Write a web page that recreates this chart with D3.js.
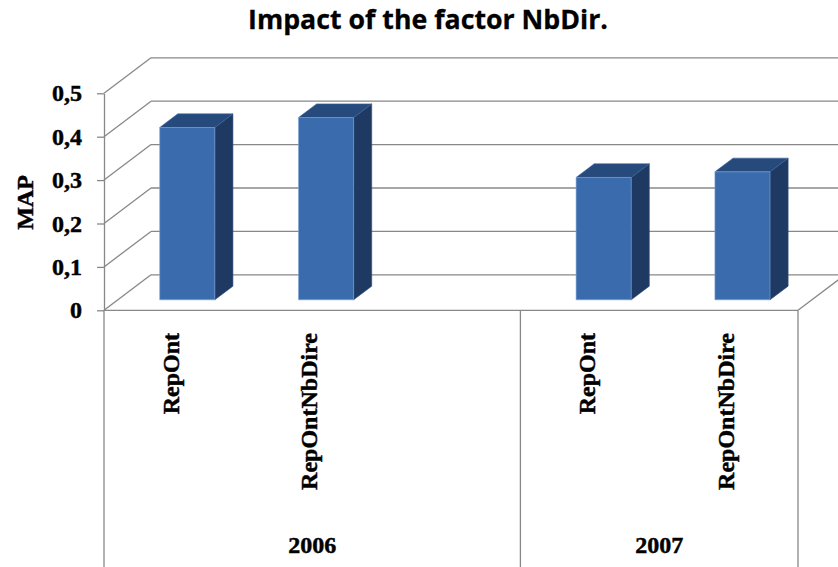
<!DOCTYPE html>
<html><head><meta charset="utf-8">
<script src="https://cdn.jsdelivr.net/npm/d3@7"></script>
<style>html,body{margin:0;padding:0;background:#fff;}svg{display:block;}
.serif{font-family:"Liberation Serif";font-weight:bold;font-size:24px;fill:#000;stroke:#000;stroke-width:0.45px;}</style>
</head><body>
<svg id="chart" width="838" height="567"></svg>
<script>
// ---- data ----
const title = "Impact of the factor NbDir.";
const yLabel = "MAP";
const categories = ["RepOnt", "RepOntNbDire", "", "RepOnt", "RepOntNbDire"];
const categoryYears = ["2006", "2006", "2006", "2007", "2007"];
const values = [0.397, 0.42, null, 0.282, 0.295];
const yTicks = [0, 0.1, 0.2, 0.3, 0.4, 0.5];

// ---- layout ----
const W = 838, H = 567;
const svg = d3.select("#chart");
const x = d3.scaleBand().domain(d3.range(categories.length)).range([104, 798]).padding(0);
const y = d3.scaleLinear().domain([0, 0.5]).range([310.3, 93.3]);
const DX = 47, DY = 35.5; // full depth offset
const proj = (px, py, f) => [px + f * DX, py - f * DY];
const gridColor = "#888888";

// back wall gridlines + left wall diagonals
const g = svg.append("g");
yTicks.forEach(v => {
  const a = proj(x.range()[0], y(v), 1), b = proj(x.range()[1], y(v), 1);
  g.append("line").attr("x1", a[0]).attr("y1", a[1]).attr("x2", b[0]).attr("y2", b[1])
    .attr("stroke", gridColor).attr("stroke-width", 1.3);
  g.append("line").attr("x1", x.range()[0]).attr("y1", y(v)).attr("x2", a[0]).attr("y2", a[1])
    .attr("stroke", gridColor).attr("stroke-width", 1.3);
});
// floor front edge and right diagonal
const r = proj(x.range()[1], y(0), 1);
g.append("line").attr("x1", x.range()[0]).attr("y1", y(0)).attr("x2", x.range()[1]).attr("y2", y(0))
  .attr("stroke", gridColor).attr("stroke-width", 1.3);
g.append("line").attr("x1", x.range()[1]).attr("y1", y(0)).attr("x2", r[0]).attr("y2", r[1])
  .attr("stroke", gridColor).attr("stroke-width", 1.3);

// y axis
const yAxis = d3.axisLeft(y).tickValues(yTicks).tickSizeInner(7).tickSizeOuter(0).tickPadding(15)
  .tickFormat(d => d === 0 ? "0" : d3.format(".1f")(d).replace(".", ","));
const ya = svg.append("g").attr("transform", `translate(${x.range()[0]},0)`).call(yAxis);
ya.selectAll("path,line").attr("stroke", gridColor).attr("stroke-width", 1.3);
ya.selectAll("text").attr("class", "serif").attr("font-family", null).attr("font-size", null).attr("fill", null);

// bars
const fFront = 0.295, fBack = 0.68, barFrac = 0.397;
const bw = x.bandwidth() * barFrac;
const bars = svg.append("g");
values.forEach((v, i) => {
  if (v == null) return;
  const cx = x(i) + x.bandwidth() / 2;
  const xl = cx - bw / 2, xr = cx + bw / 2;
  const F = (px, py) => proj(px, py, fFront);
  const B = (px, py) => proj(px, py, fBack);
  const y0 = y(0), y1 = y(v);
  const pts = a => a.map(p => p.join(",")).join(" ");
  bars.append("polygon").attr("points", pts([F(xr, y0), B(xr, y0), B(xr, y1), F(xr, y1)]))
    .attr("fill", "#1f3a62").attr("stroke", "#2c4c7e").attr("stroke-width", 0.6);
  bars.append("polygon").attr("points", pts([F(xl, y1), F(xr, y1), B(xr, y1), B(xl, y1)]))
    .attr("fill", "#274a7c").attr("stroke", "#3d63a0").attr("stroke-width", 0.6);
  bars.append("polygon").attr("points", pts([F(xl, y0), F(xr, y0), F(xr, y1), F(xl, y1)]))
    .attr("fill", "#3a6bad").attr("stroke", "#7fa3d6").attr("stroke-width", 0.6);
});

// category axis below
const xa = svg.append("g");
const bottom = H + 5;
const groupStarts = [];
categoryYears.forEach((yr, i) => { if (i === 0 || categoryYears[i - 1] !== yr) groupStarts.push(i); });
const boundaries = groupStarts.map(i => x(i)).concat([x.range()[1]]);
boundaries.forEach(bx => {
  xa.append("line").attr("x1", bx).attr("y1", y(0)).attr("x2", bx).attr("y2", bottom)
    .attr("stroke", gridColor).attr("stroke-width", 1.3);
});
categories.forEach((c, i) => {
  if (!c) return;
  const cx = x(i) + x.bandwidth() / 2;
  xa.append("text").attr("class", "serif").attr("transform", `translate(${cx},333) rotate(-90)`)
    .attr("text-anchor", "end").attr("dy", "0.22em").text(c);
});
groupStarts.forEach((s, k) => {
  const e = k + 1 < groupStarts.length ? groupStarts[k + 1] : categories.length;
  const gx = (x(s) + (e < categories.length ? x(e) : x.range()[1])) / 2;
  xa.append("text").attr("class", "serif").attr("x", gx).attr("y", 553).attr("text-anchor", "middle")
    .text(categoryYears[s]);
});

// y label
svg.append("text").attr("class", "serif").attr("transform", "translate(33,202.5) rotate(-90)")
  .attr("text-anchor", "middle").text(yLabel);

// title
const t = svg.append("text").attr("x", 428).attr("y", 28.5).attr("text-anchor", "middle")
  .attr("font-family", "Open Sans").attr("font-weight", "bold").attr("font-size", 24)
  .attr("stroke", "#000").attr("stroke-width", 0.3).text(title);
const len = t.node().getComputedTextLength();
t.attr("font-size", 24 * 360 / len);
</script>
</body></html>
